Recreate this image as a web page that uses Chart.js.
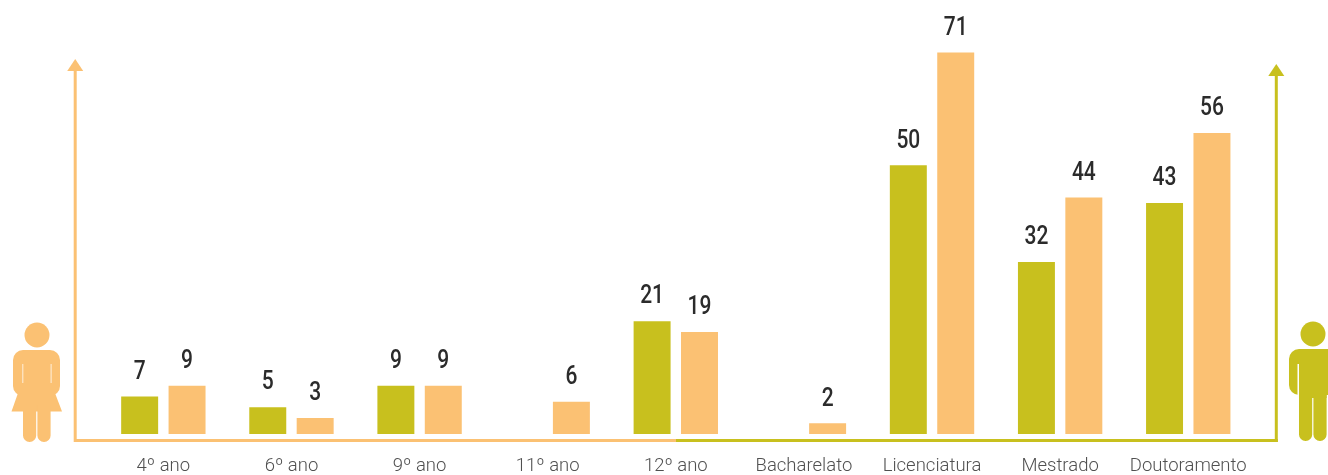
<!DOCTYPE html>
<html>
<head>
<meta charset="utf-8">
<style>
  html, body { margin: 0; padding: 0; background: #fff; overflow: hidden; }
  canvas { display: block; }
</style>
<script src="https://cdn.jsdelivr.net/npm/chart.js@4/dist/chart.umd.min.js"></script>
</head>
<body>
<canvas id="chart" width="1328" height="475"></canvas>
<script>
const categories = ['4º ano', '6º ano', '9º ano', '11º ano', '12º ano', 'Bacharelato', 'Licenciatura', 'Mestrado', 'Doutoramento'];
const homens = [7, 5, 9, null, 21, null, 50, 32, 43];
const mulheres = [9, 3, 9, 6, 19, 2, 71, 44, 56];

const GREEN = '#c8c01e';
const ORANGE = '#fbc173';
const FONT = 'Roboto, sans-serif';

const valueLabels = {
  id: 'valueLabels',
  afterDatasetsDraw(chart) {
    const ctx = chart.ctx;
    chart.data.datasets.forEach((ds, i) => {
      chart.getDatasetMeta(i).data.forEach((bar, j) => {
        if (ds.data[j] == null) return;
        ctx.save();
        ctx.font = `500 25px ${FONT}`;
        ctx.fillStyle = '#2b2b2b';
        ctx.textAlign = 'center';
        ctx.textBaseline = 'middle';
        // numbers in the original are a narrow face
        ctx.translate(bar.x, bar.y - 24);
        ctx.scale(0.84, 1);
        ctx.fillText(ds.data[j], 0, 0);
        ctx.restore();
      });
    });
  }
};

function arrowAxis(ctx, x, top, bottom, color) {
  ctx.strokeStyle = color;
  ctx.lineWidth = 3;
  ctx.beginPath();
  ctx.moveTo(x, top + 8);
  ctx.lineTo(x, bottom);
  ctx.stroke();
  ctx.fillStyle = color;
  ctx.beginPath();
  ctx.moveTo(x, top);
  ctx.lineTo(x - 8, top + 12);
  ctx.lineTo(x + 8, top + 12);
  ctx.closePath();
  ctx.fill();
}

function drawWoman(ctx) {
  ctx.fillStyle = ORANGE;
  ctx.beginPath();
  ctx.arc(37, 335, 12.5, 0, Math.PI * 2);
  ctx.fill();
  ctx.beginPath();
  ctx.roundRect(13, 350, 47, 46, 10);
  ctx.fill();
  ctx.beginPath();
  ctx.moveTo(18, 393);
  ctx.lineTo(55, 393);
  ctx.lineTo(62, 411.5);
  ctx.lineTo(11.5, 411.5);
  ctx.closePath();
  ctx.fill();
  ctx.beginPath();
  ctx.roundRect(23, 405, 13.2, 37, [0, 0, 6.5, 6.5]);
  ctx.roundRect(37.4, 405, 13.2, 37, [0, 0, 6.5, 6.5]);
  ctx.fill();
  ctx.fillStyle = 'rgba(255,255,255,0.75)';
  ctx.fillRect(22.3, 364, 1, 19);
  ctx.fillRect(50.6, 364, 1, 19);
}

function drawMan(ctx) {
  ctx.fillStyle = GREEN;
  ctx.beginPath();
  ctx.arc(1313, 334, 12.5, 0, Math.PI * 2);
  ctx.fill();
  ctx.beginPath();
  ctx.roundRect(1289, 349, 50, 46, [10, 10, 0, 10]);
  ctx.fill();
  ctx.beginPath();
  ctx.roundRect(1299, 380, 13.2, 61, [0, 0, 6.5, 6.5]);
  ctx.roundRect(1313.4, 380, 13.2, 61, [0, 0, 6.5, 6.5]);
  ctx.fill();
  ctx.fillRect(1299, 380, 27.6, 18);
  ctx.fillStyle = '#fff';
  ctx.fillRect(1297.5, 364, 1.5, 32);
}

const decorations = {
  id: 'decorations',
  beforeDatasetsDraw(chart) {
    const ctx = chart.ctx;
    ctx.save();
    arrowAxis(ctx, 75.2, 59, 442, ORANGE);
    arrowAxis(ctx, 1276.3, 64, 442, GREEN);
    ctx.lineWidth = 3;
    ctx.strokeStyle = ORANGE;
    ctx.beginPath();
    ctx.moveTo(74, 440.5);
    ctx.lineTo(676, 440.5);
    ctx.stroke();
    ctx.strokeStyle = GREEN;
    ctx.beginPath();
    ctx.moveTo(676, 440.5);
    ctx.lineTo(1277.8, 440.5);
    ctx.stroke();
    drawWoman(ctx);
    drawMan(ctx);
    ctx.restore();
  }
};

new Chart(document.getElementById('chart'), {
  type: 'bar',
  data: {
    labels: categories,
    datasets: [
      { label: 'Homens', data: homens, backgroundColor: GREEN },
      { label: 'Mulheres', data: mulheres, backgroundColor: ORANGE }
    ]
  },
  options: {
    responsive: false,
    animation: false,
    categoryPercentage: 0.74,
    barPercentage: 0.78,
    layout: { padding: { left: 99.3, right: 75.7, top: 4, bottom: 0 } },
    scales: {
      x: {
        grid: { display: false, drawTicks: false },
        border: { display: false },
        ticks: {
          color: '#505050',
          font: { family: FONT, size: 18.5, weight: '300' },
          padding: 21,
          maxRotation: 0,
          autoSkip: false
        },
        afterFit(scale) { scale.height = 41; }
      },
      y: { display: false, min: 0, max: 80 }
    },
    plugins: { legend: { display: false }, tooltip: { enabled: false } }
  },
  plugins: [decorations, valueLabels]
});
</script>
</body>
</html>
